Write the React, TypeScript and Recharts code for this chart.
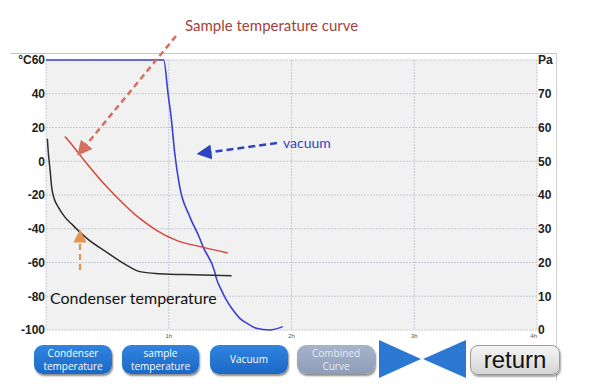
import React from 'react';
import { LineChart, Line, XAxis, YAxis, CartesianGrid } from 'recharts';

// condenser temperature (°C) over time (h)
const condenserTime = [0.011, 0.019, 0.033, 0.046, 0.065, 0.1, 0.154, 0.22, 0.276, 0.333, 0.496, 0.659, 0.764, 0.927, 1.2, 1.512];
const condenserTemp = [13.3, 5, -5, -15.2, -21.8, -27.2, -33.1, -38, -42, -45.7, -54, -61.7, -65.4, -66.6, -67.3, -67.8];

// sample temperature (°C)
const sampleTime = [0.154, 0.222, 0.317, 0.493, 0.628, 0.764, 0.9, 1.063, 1.276, 1.48];
const sampleTemp = [14.6, 8.8, 0, -15, -25, -33.9, -40.9, -46.9, -50.9, -54.4];

// vacuum (Pa)
const vacuumTime = [0, 0.5, 0.959, 0.994, 1.022, 1.049, 1.089, 1.171, 1.252, 1.279, 1.374, 1.388, 1.428, 1.469, 1.523, 1.577, 1.645, 1.713, 1.821, 1.929];
const vacuumPa = [80, 80, 80, 70.1, 62.2, 52.3, 42.5, 33.6, 27.2, 24.7, 17.3, 15.3, 11.9, 8.9, 5.9, 3.5, 1.8, 0.5, 0, 1];

const timeTicks = [1, 2, 3, 4];
const tempTicks = [-100, -80, -60, -40, -20, 0, 20, 40, 60];
const paTicks = [0, 10, 20, 30, 40, 50, 60, 70, 80];

const buttons = [
  { label: ['Condenser', 'temperature'], x: 34, w: 78, active: true },
  { label: ['sample', 'temperature'], x: 122, w: 77, active: true },
  { label: ['Vacuum'], x: 210, w: 78, active: true },
  { label: ['Combined', 'Curve'], x: 297, w: 78, active: false },
];

const zip = (xs: number[], ys: number[]) => xs.map((t, i) => ({ t, v: ys[i] }));

const tickStyle = { fontSize: 12, fontWeight: 700, fill: '#222', fontFamily: '"Liberation Sans", Arial, sans-serif' };

// tiny hour labels; the last one sits just left of the right-axis "0"
const HourTick = (props: any) => {
  const { x, y, payload } = props;
  const last = payload.value === timeTicks[timeTicks.length - 1];
  return (
    <text x={x} y={y} dy={6} textAnchor={last ? 'end' : 'middle'} fontSize={6} fill="#555" fontFamily='"Liberation Sans", Arial, sans-serif'>
      {`${payload.value}h`}
    </text>
  );
};

export default function App() {
  const condenser = zip(condenserTime, condenserTemp);
  const sample = zip(sampleTime, sampleTemp);
  const vacuum = zip(vacuumTime, vacuumPa);

  return (
    <div style={{ position: 'absolute', left: 0, top: 0, width: 613, height: 389, background: '#fff', overflow: 'hidden' }}>
      {/* frame */}
      <div style={{ position: 'absolute', left: 10, top: 53, width: 546, height: 327, borderTop: '1px solid #c4c4c4', borderRight: '1px solid #d0d0d0' }} />

      <div style={{ position: 'absolute', left: 0, top: 0 }}>
        <LineChart width={613} height={389} margin={{ top: 60, right: 46, bottom: 45, left: 0 }}>
          <CartesianGrid xAxisId="time" yAxisId="temp" fill="#f1f1f2" stroke="#c8cad6" strokeDasharray="2 1" />
          <XAxis
            xAxisId="time"
            dataKey="t"
            type="number"
            domain={[0, 4]}
            ticks={timeTicks}
            tick={<HourTick />}
            tickLine={false}
            axisLine={false}
            tickSize={0}
            tickMargin={2}
            height={14}
            allowDuplicatedCategory={false}
          />
          <YAxis
            yAxisId="temp"
            orientation="left"
            type="number"
            domain={[-100, 60]}
            ticks={tempTicks}
            tickFormatter={(v) => (v === 60 ? '°C60' : `${v}`)}
            tick={tickStyle}
            tickLine={false}
            axisLine={false}
            tickSize={0}
            tickMargin={1}
            width={46}
          />
          <YAxis
            yAxisId="pa"
            orientation="right"
            type="number"
            domain={[0, 80]}
            ticks={paTicks}
            tickFormatter={(v) => (v === 80 ? 'Pa' : `${v}`)}
            tick={tickStyle}
            tickLine={false}
            axisLine={false}
            tickSize={0}
            tickMargin={1}
            width={30}
          />
          <Line xAxisId="time" yAxisId="pa" data={vacuum} dataKey="v" type="monotone" stroke="#3b3fd2" strokeWidth={1.6} dot={false} isAnimationActive={false} />
          <Line xAxisId="time" yAxisId="temp" data={sample} dataKey="v" type="monotone" stroke="#d8463b" strokeWidth={1.5} dot={false} isAnimationActive={false} />
          <Line xAxisId="time" yAxisId="temp" data={condenser} dataKey="v" type="monotone" stroke="#2e2e2e" strokeWidth={1.5} dot={false} isAnimationActive={false} />
        </LineChart>
      </div>

      {/* annotations */}
      <svg width={613} height={389} style={{ position: 'absolute', left: 0, top: 0, pointerEvents: 'none' }}>
        <defs>
          <marker id="ah-red" markerWidth="6" markerHeight="6" refX="3" refY="3" orient="auto">
            <path d="M0,0 L6,3 L0,6 Z" fill="#d4705f" />
          </marker>
          <marker id="ah-blue" markerWidth="6" markerHeight="6" refX="3" refY="3" orient="auto">
            <path d="M0,0 L6,3 L0,6 Z" fill="#2f44c4" />
          </marker>
          <marker id="ah-orange" markerWidth="6" markerHeight="6" refX="3" refY="3" orient="auto">
            <path d="M0,0 L6,3 L0,6 Z" fill="#e39450" />
          </marker>
        </defs>
        <line x1={176} y1={36} x2={82} y2={150} stroke="#d4705f" strokeWidth={2.5} strokeDasharray="6 4" markerEnd="url(#ah-red)" />
        <line x1={277} y1={143} x2={204} y2={153} stroke="#2f44c4" strokeWidth={2.5} strokeDasharray="7 4" markerEnd="url(#ah-blue)" />
        <line x1={80} y1={270} x2={80} y2={236} stroke="#e39450" strokeWidth={2.2} strokeDasharray="6 4" markerEnd="url(#ah-orange)" />
        <text x={185} y={31} fontSize={15} fill="#a5413a" fontFamily="Lato, sans-serif">Sample temperature curve</text>
        <text x={283} y={148} fontSize={14} fill="#2c47c9" fontFamily="Lato, sans-serif">vacuum</text>
        <text x={50} y={304} fontSize={16} fill="#111" fontFamily="Lato, sans-serif">Condenser temperature</text>
        <polygon points="379,340 421,359 379,378" fill="#2a78d2" />
        <polygon points="466,340 423,359 466,378" fill="#2a78d2" />
      </svg>

      {/* buttons */}
      {buttons.map((b) => (
        <div
          key={b.label.join(' ')}
          style={{
            position: 'absolute',
            left: b.x,
            top: 345,
            width: b.w,
            height: 29,
            borderRadius: 9,
            background: b.active ? 'linear-gradient(#2f84de, #1c68c6)' : 'linear-gradient(#a6b3c9, #8e9db8)',
            boxShadow: '1px 2px 2px rgba(0,0,0,0.45)',
            color: b.active ? '#fff' : '#e6eaf2',
            fontFamily: '"Open Sans", sans-serif',
            fontSize: 10,
            lineHeight: '13px',
            display: 'flex',
            flexDirection: 'column',
            alignItems: 'center',
            justifyContent: 'center',
          }}
        >
          {b.label.map((l) => (
            <span key={l}>{l}</span>
          ))}
        </div>
      ))}
      <div
        style={{
          position: 'absolute',
          left: 470,
          top: 345,
          width: 90,
          height: 30,
          borderRadius: 8,
          border: '1px solid #9a9a9a',
          background: 'linear-gradient(#f5f5f5, #d4d4d4)',
          boxShadow: '1px 2px 2px rgba(0,0,0,0.35)',
          fontFamily: '"Liberation Sans", Arial, sans-serif',
          fontSize: 24,
          color: '#111',
          display: 'flex',
          alignItems: 'center',
          justifyContent: 'center',
          boxSizing: 'border-box',
        }}
      >
        return
      </div>
    </div>
  );
}
